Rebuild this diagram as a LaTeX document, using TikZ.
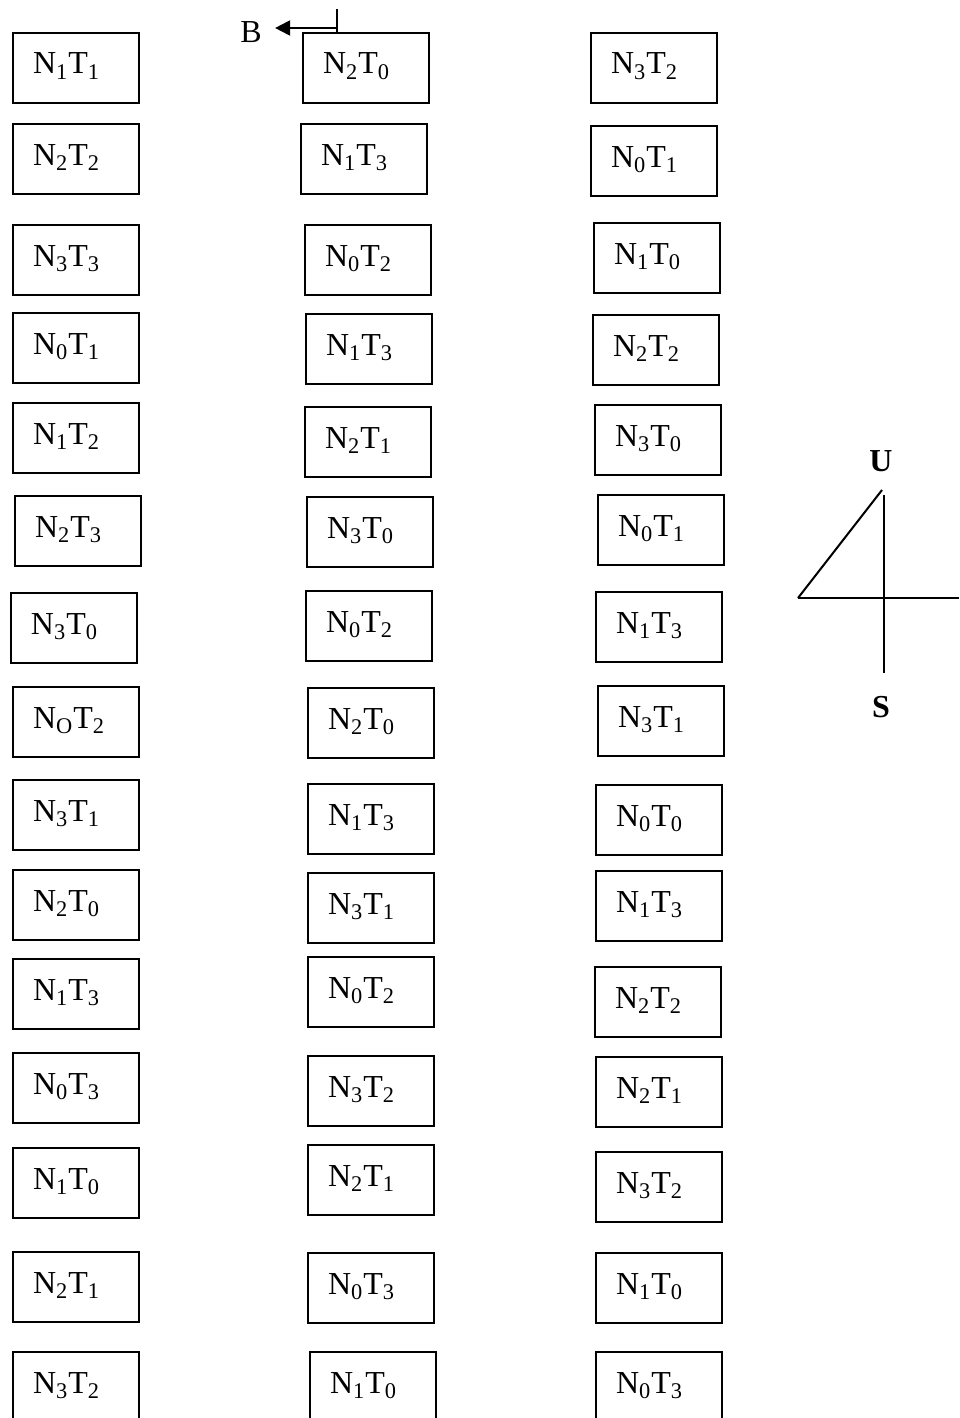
\documentclass[tikz,border=0pt]{standalone}
\usepackage{fontspec}
\setmainfont{Liberation Serif}
\usetikzlibrary{arrows.meta}

\newcommand{\NT}[2]{N\textsubscript{#1}T\textsubscript{#2}}

\begin{document}
\begin{tikzpicture}[x=0.5pt, y=-0.5pt,
    cell/.style={draw, line width=1pt, anchor=north west,
        minimum width=63pt, minimum height=35pt, text width=43pt,
        inner xsep=10pt, inner ysep=0pt, align=left,
        text height=12pt, text depth=6pt, font=\fontsize{16}{19}\selectfont},
    thin line/.style={line width=1pt}]
    % page frame, the last row runs off the bottom edge
    \useasboundingbox (0,0) rectangle (959,1418);
    \clip (0,0) rectangle (959,1418);

    % Left column
    \foreach \px/\py/\nn/\tt [count=\i] in {12/32/1/1, 12/123/2/2, 12/224/3/3,
        12/312/0/1, 12/402/1/2, 14/495/2/3, 10/592/3/0, 12/686/O/2, 12/779/3/1,
        12/869/2/0, 12/958/1/3, 12/1052/0/3, 12/1147/1/0, 12/1251/2/1, 12/1351/3/2}
        \node[cell] (a\i) at (\px,\py) {\NT{\nn}{\tt}};

    % Middle column
    \foreach \px/\py/\nn/\tt [count=\i] in {302/32/2/0, 300/123/1/3, 304/224/0/2,
        305/313/1/3, 304/406/2/1, 306/496/3/0, 305/590/0/2, 307/687/2/0, 307/783/1/3,
        307/872/3/1, 307/956/0/2, 307/1055/3/2, 307/1144/2/1, 307/1252/0/3, 309/1351/1/0}
        \node[cell] (b\i) at (\px,\py) {\NT{\nn}{\tt}};

    % Right column
    \foreach \px/\py/\nn/\tt [count=\i] in {590/32/3/2, 590/125/0/1, 593/222/1/0,
        592/314/2/2, 594/404/3/0, 597/494/0/1, 595/591/1/3, 597/685/3/1, 595/784/0/0,
        595/870/1/3, 594/966/2/2, 595/1056/2/1, 595/1151/3/2, 595/1252/1/0, 595/1351/0/3}
        \node[cell] (c\i) at (\px,\py) {\NT{\nn}{\tt}};

    % B marker on top of the middle column
    \node[inner xsep=6.5pt, inner ysep=0pt, font=\fontsize{16}{19}\selectfont] (bl) at (251,32) {B};
    \coordinate (btop) at (337,9);
    \coordinate (bbend) at (337,28);
    \draw[thin line] (btop) -- (btop |- b1.north);
    \draw[thin line, -{Triangle[length=7.5pt,width=7.5pt]}] (bbend) -- (bbend -| bl.east);

    % U-S sketch on the right
    \node[font=\fontsize{16}{19}\selectfont\bfseries] (u) at (881,461) {U};
    \node[font=\fontsize{16}{19}\selectfont\bfseries] (s) at (881,707) {S};
    \coordinate (ctop) at (884,495);
    \coordinate (cbot) at (884,673);
    \coordinate (cleft) at (798,598);
    \coordinate (cright) at (959,598);
    \coordinate (capex) at (882,490);
    \draw[thin line] (ctop) -- (cbot);
    \draw[thin line] (cleft) -- (cright);
    \draw[thin line] (cleft) -- (capex);
\end{tikzpicture}
\end{document}
